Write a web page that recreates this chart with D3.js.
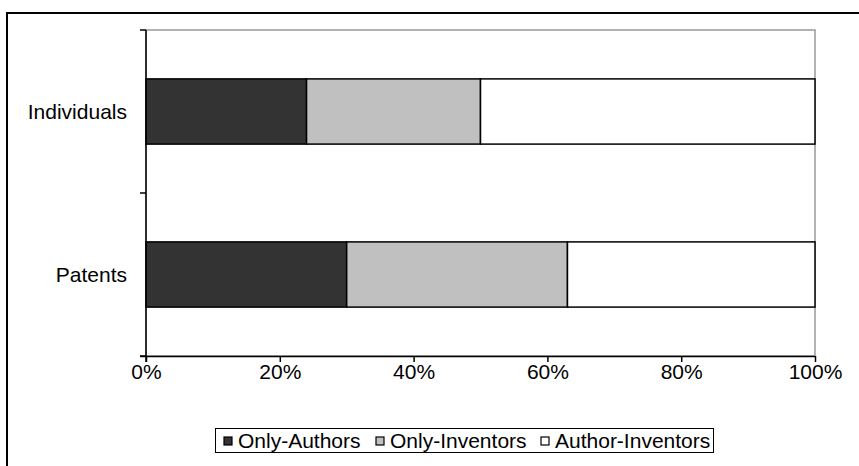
<!DOCTYPE html>
<html>
<head>
<meta charset="utf-8">
<script src="https://cdn.jsdelivr.net/npm/d3@7/dist/d3.min.js"></script>
<style>
  body { margin: 0; background: #fff; }
  svg { display: block; font-family: "Liberation Sans", Arial, sans-serif; }
</style>
</head>
<body>
<svg id="chart" width="859" height="466"></svg>
<script>
// Shares of each group, in percent
const categories = ["Individuals", "Patents"];
const seriesNames = ["Only-Authors", "Only-Inventors", "Author-Inventors"];
const onlyAuthors = [24, 30];
const onlyInventors = [26, 33];
const authorInventors = [50, 37];
const tickValues = [0, 20, 40, 60, 80, 100];
const colors = ["#333333", "#C0C0C0", "#FFFFFF"];

const svg = d3.select("#chart");
const W = 859, H = 466;
const FONT = "21px";

// Outer chart frame
svg.append("rect")
  .attr("x", 7).attr("y", 13).attr("width", W + 10).attr("height", H + 10)
  .attr("fill", "#fff").attr("stroke", "#000").attr("stroke-width", 2);

const plot = { left: 146, right: 815, top: 30, bottom: 356 };

const x = d3.scaleLinear().domain([0, 100]).range([plot.left, plot.right]);
const y = d3.scaleBand().domain(categories).range([plot.top, plot.bottom])
  .paddingInner(0.6).paddingOuter(0.3);
const yTicks = d3.scaleBand().domain(categories).range([plot.top, plot.bottom]);

// Plot area border (gray)
svg.append("rect")
  .attr("x", plot.left).attr("y", plot.top)
  .attr("width", plot.right - plot.left).attr("height", plot.bottom - plot.top)
  .attr("fill", "none").attr("stroke", "#999").attr("stroke-width", 1.5);

// Stacked bars
const rows = categories.map((c, i) => ({
  cat: c, "Only-Authors": onlyAuthors[i], "Only-Inventors": onlyInventors[i], "Author-Inventors": authorInventors[i]
}));
const stacked = d3.stack().keys(seriesNames)(rows);

svg.append("g").selectAll("g").data(stacked).join("g")
  .attr("fill", (d, i) => colors[i])
  .selectAll("rect").data(d => d).join("rect")
  .attr("x", d => x(d[0]))
  .attr("y", d => y(d.data.cat))
  .attr("width", d => x(d[1]) - x(d[0]))
  .attr("height", y.bandwidth())
  .attr("stroke", "#000").attr("stroke-width", 1.5);

// X axis
const xAxis = d3.axisBottom(x).tickValues(tickValues).tickFormat(d => d + "%")
  .tickSizeInner(6).tickSizeOuter(0).tickPadding(2);
const gx = svg.append("g").attr("transform", `translate(0,${plot.bottom})`).call(xAxis);
gx.select(".domain").attr("stroke", "#000").attr("stroke-width", 1.5)
  .attr("d", `M${plot.left - 6},0.5H${plot.right}`);
gx.selectAll(".tick line").attr("stroke", "#000").attr("stroke-width", 1.5);
gx.selectAll(".tick text").attr("fill", "#000").style("font-size", FONT)
  .style("font-family", "'Liberation Sans', Arial, sans-serif");

// Y axis: tick marks at category boundaries, labels at band centers
const gy = svg.append("g");
gy.append("line").attr("x1", plot.left).attr("x2", plot.left)
  .attr("y1", plot.top).attr("y2", plot.bottom + 6)
  .attr("stroke", "#000").attr("stroke-width", 1.5);
const boundaries = categories.map(c => yTicks(c)).concat([plot.bottom]);
gy.selectAll("line.tk").data(boundaries).join("line").attr("class", "tk")
  .attr("x1", plot.left - 6).attr("x2", plot.left)
  .attr("y1", d => d).attr("y2", d => d)
  .attr("stroke", "#000").attr("stroke-width", 1.5);
gy.selectAll("text").data(categories).join("text")
  .attr("x", plot.left - 19)
  .attr("y", d => yTicks(d) + yTicks.bandwidth() / 2)
  .attr("dy", "0.35em").attr("text-anchor", "end")
  .style("font-size", FONT).text(d => d);

// Legend
const legend = svg.append("g");
legend.append("rect").attr("x", 215.5).attr("y", 428.5).attr("width", 498).attr("height", 24)
  .attr("fill", "#fff").attr("stroke", "#000").attr("stroke-width", 1);
const legendX = [224, 376, 541];
const items = legend.selectAll("g.item").data(seriesNames).join("g").attr("class", "item")
  .attr("transform", (d, i) => `translate(${legendX[i]},441)`);
items.append("rect").attr("x", 0).attr("y", -4).attr("width", 8).attr("height", 8)
  .attr("fill", (d, i) => colors[i]).attr("stroke", "#000").attr("stroke-width", 1.2);
items.append("text").attr("x", 14).attr("dy", "0.35em")
  .style("font-size", FONT).text(d => d);
</script>
</body>
</html>
